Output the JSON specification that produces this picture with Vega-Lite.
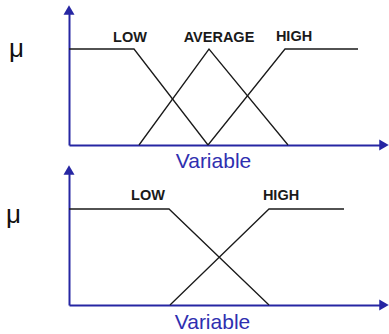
{
  "$schema": "https://vega.github.io/schema/vega-lite/v6.json",
  "padding": {"left": 5, "top": 5, "right": 0, "bottom": 0},
  "bounds": "flush",
  "spacing": 25,
  "background": "white",
  "config": {
    "view": {"stroke": null},
    "axis": {
      "grid": false, "ticks": false, "labels": false,
      "domainColor": "#2626a3", "domainWidth": 2,
      "titleFont": "Liberation Sans", "titleFontWeight": "normal"
    }
  },
  "datasets": {
    "topLines": [
      {"set": "LOW", "x": 0, "mu": 1}, {"set": "LOW", "x": 65, "mu": 1}, {"set": "LOW", "x": 139, "mu": 0},
      {"set": "AVERAGE", "x": 70, "mu": 0}, {"set": "AVERAGE", "x": 140, "mu": 1}, {"set": "AVERAGE", "x": 219, "mu": 0},
      {"set": "HIGH", "x": 139, "mu": 0}, {"set": "HIGH", "x": 216, "mu": 1}, {"set": "HIGH", "x": 289, "mu": 1}
    ],
    "topLabels": [
      {"label": "LOW", "x": 61, "mu": 1.115},
      {"label": "AVERAGE", "x": 150, "mu": 1.115},
      {"label": "HIGH", "x": 225, "mu": 1.125}
    ],
    "bottomLines": [
      {"set": "LOW", "x": 0, "mu": 1}, {"set": "LOW", "x": 100, "mu": 1}, {"set": "LOW", "x": 200, "mu": 0},
      {"set": "HIGH", "x": 101, "mu": 0}, {"set": "HIGH", "x": 200, "mu": 1}, {"set": "HIGH", "x": 275, "mu": 1}
    ],
    "bottomLabels": [
      {"label": "LOW", "x": 79, "mu": 1.14},
      {"label": "HIGH", "x": 212, "mu": 1.14}
    ],
    "arrows": [
      {"dir": "up", "x": 0, "mu": 1.40625},
      {"dir": "right", "x": 315, "mu": 0}
    ]
  },
  "vconcat": [
    {
      "width": 315, "height": 135,
      "layer": [
        {
          "data": {"name": "topLines"},
          "mark": {"type": "line", "color": "#1a1a1a", "strokeWidth": 1.3},
          "encoding": {
            "x": {"field": "x", "type": "quantitative", "scale": {"domain": [0, 315], "nice": false},
                  "axis": {"title": "Variable", "titleColor": "#2f2fb0", "titleFontSize": 21, "titleX": 144, "titleY": 22, "titleAlign": "center", "titleBaseline": "alphabetic"}},
            "y": {"field": "mu", "type": "quantitative", "scale": {"domain": [0, 1.40625], "nice": false},
                  "axis": {"title": "μ", "titleColor": "#111111", "titleFontSize": 26, "titleAngle": 0, "titleX": -53, "titleY": 46, "titleAlign": "center", "titleBaseline": "alphabetic"}},
            "detail": {"field": "set"}
          }
        },
        {
          "data": {"name": "topLabels"},
          "mark": {"type": "text", "font": "Liberation Sans", "fontWeight": "bold", "fontSize": 14.5, "color": "#1a1a1a", "baseline": "middle"},
          "encoding": {
            "x": {"field": "x", "type": "quantitative"},
            "y": {"field": "mu", "type": "quantitative"},
            "text": {"field": "label"}
          }
        },
        {
          "data": {"name": "arrows"},
          "mark": {"type": "point", "filled": true, "size": 121, "color": "#2626a3", "opacity": 1},
          "encoding": {
            "x": {"field": "x", "type": "quantitative"},
            "y": {"field": "mu", "type": "quantitative"},
            "shape": {"field": "dir", "type": "nominal", "scale": {"domain": ["up", "right"], "range": ["triangle-up", "triangle-right"]}, "legend": null}
          }
        }
      ]
    },
    {
      "width": 315, "height": 135,
      "layer": [
        {
          "data": {"name": "bottomLines"},
          "mark": {"type": "line", "color": "#1a1a1a", "strokeWidth": 1.3},
          "encoding": {
            "x": {"field": "x", "type": "quantitative", "scale": {"domain": [0, 315], "nice": false},
                  "axis": {"title": "Variable", "titleColor": "#2f2fb0", "titleFontSize": 21, "titleX": 143, "titleY": 23, "titleAlign": "center", "titleBaseline": "alphabetic"}},
            "y": {"field": "mu", "type": "quantitative", "scale": {"domain": [0, 1.40625], "nice": false},
                  "axis": {"title": "μ", "titleColor": "#111111", "titleFontSize": 26, "titleAngle": 0, "titleX": -56, "titleY": 52, "titleAlign": "center", "titleBaseline": "alphabetic"}},
            "detail": {"field": "set"}
          }
        },
        {
          "data": {"name": "bottomLabels"},
          "mark": {"type": "text", "font": "Liberation Sans", "fontWeight": "bold", "fontSize": 14.5, "color": "#1a1a1a", "baseline": "middle"},
          "encoding": {
            "x": {"field": "x", "type": "quantitative"},
            "y": {"field": "mu", "type": "quantitative"},
            "text": {"field": "label"}
          }
        },
        {
          "data": {"name": "arrows"},
          "mark": {"type": "point", "filled": true, "size": 121, "color": "#2626a3", "opacity": 1},
          "encoding": {
            "x": {"field": "x", "type": "quantitative"},
            "y": {"field": "mu", "type": "quantitative"},
            "shape": {"field": "dir", "type": "nominal", "scale": {"domain": ["up", "right"], "range": ["triangle-up", "triangle-right"]}, "legend": null}
          }
        }
      ]
    }
  ]
}
